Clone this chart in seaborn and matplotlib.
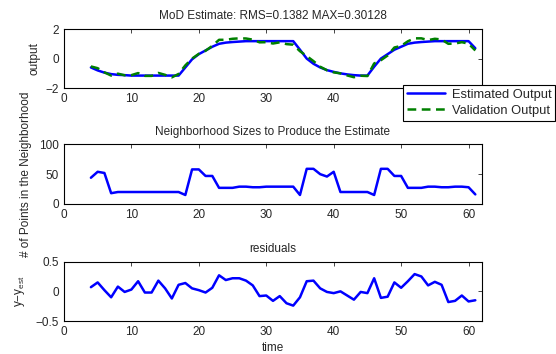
import numpy as np
import pandas as pd
import matplotlib
matplotlib.use("Agg")
import matplotlib.pyplot as plt
import seaborn as sns

# data
time = list(range(4, 62))

estimated = [-0.60, -0.80, -0.95, -1.05, -1.10, -1.12, -1.15, -1.15, -1.15, -1.15,
             -1.15, -1.15, -1.15, -1.15, -0.60, -0.05, 0.30, 0.55, 0.80, 1.00,
             1.08, 1.12, 1.15, 1.18, 1.18, 1.18, 1.18, 1.18, 1.18, 1.18,
             1.18, 0.60, 0.00, -0.35, -0.60, -0.78, -0.90, -1.00, -1.07, -1.12,
             -1.15, -1.15, -0.55, 0.00, 0.30, 0.60, 0.80, 1.00, 1.08, 1.12,
             1.15, 1.18, 1.18, 1.18, 1.18, 1.18, 1.18, 0.70]

validation = [-0.53, -0.65, -0.93, -1.15, -1.02, -1.13, -1.12, -0.98, -1.17, -1.17,
              -0.97, -1.10, -1.27, -1.04, -0.46, 0.00, 0.32, 0.53, 0.86, 1.27,
              1.27, 1.34, 1.37, 1.36, 1.28, 1.10, 1.11, 1.02, 1.10, 0.98,
              0.94, 0.50, 0.17, -0.17, -0.55, -0.79, -0.93, -1.00, -1.14, -1.26,
              -1.16, -1.18, -0.33, -0.11, 0.21, 0.75, 0.86, 1.17, 1.37, 1.37,
              1.25, 1.34, 1.29, 1.00, 1.02, 1.11, 1.01, 0.55]

neighborhood = [44, 54, 52, 18, 20, 20, 20, 20, 20, 20,
                20, 20, 20, 20, 15, 58, 58, 47, 47, 27,
                27, 27, 29, 29, 28, 28, 29, 29, 29, 29,
                29, 15, 59, 59, 50, 46, 54, 20, 20, 20,
                20, 20, 15, 59, 59, 47, 47, 27, 27, 27,
                29, 29, 28, 28, 29, 29, 28, 16]

residuals = [0.07, 0.15, 0.02, -0.10, 0.08, -0.01, 0.03, 0.17, -0.02, -0.02,
             0.18, 0.05, -0.12, 0.11, 0.14, 0.05, 0.02, -0.02, 0.06, 0.27,
             0.19, 0.22, 0.22, 0.18, 0.10, -0.08, -0.07, -0.16, -0.08, -0.20,
             -0.24, -0.10, 0.17, 0.18, 0.05, -0.01, -0.03, 0.00, -0.07, -0.14,
             -0.01, -0.03, 0.22, -0.11, -0.09, 0.15, 0.06, 0.17, 0.29, 0.25,
             0.10, 0.16, 0.11, -0.18, -0.16, -0.07, -0.17, -0.15]

x_ticks = [0, 10, 20, 30, 40, 50, 60]
# in the top panel the "50" and "60" labels sit under the legend
top_x_labels = ["0", "10", "20", "30", "40", "", ""]

df = pd.DataFrame({
    "time": time,
    "estimated": estimated,
    "validation": validation,
    "neighborhood": neighborhood,
    "residuals": residuals,
})

# style
sns.set_style("white")
plt.rcParams["font.family"] = ["Liberation Sans", "DejaVu Sans"]
plt.rcParams["mathtext.fontset"] = "custom"
plt.rcParams["mathtext.rm"] = "Liberation Sans"
plt.rcParams["mathtext.it"] = "Liberation Sans"
plt.rcParams["font.size"] = 8.5

BLUE = "#0000ff"
GREEN = "#008000"
FS = 8.5
LW = 1.8

fig = plt.figure(figsize=(5.56, 3.54), dpi=100)
ax1 = fig.add_axes([0.115, 0.751, 0.752, 0.167])
ax2 = fig.add_axes([0.115, 0.424, 0.752, 0.168])
ax3 = fig.add_axes([0.115, 0.093, 0.752, 0.168])

# top: output
sns.lineplot(data=df, x="time", y="estimated", ax=ax1, color=BLUE,
             linewidth=LW, label="Estimated Output")
sns.lineplot(data=df, x="time", y="validation", ax=ax1, color=GREEN,
             linewidth=LW, linestyle=(0, (3.5, 2.2)), label="Validation Output")
ax1.set_ylim(-2, 2)
ax1.set_yticks([-2, 0, 2])
ax1.set_yticklabels(["\u22122", "0", "2"])
ax1.set_title("MoD Estimate: RMS=0.1382 MAX=0.30128", fontsize=FS, pad=7)
ax1.set_ylabel("output", fontsize=FS)
ax1.yaxis.set_label_coords(-0.055, 0.5)
ax1.set_xlabel("")

leg = ax1.legend(loc="upper right", bbox_to_anchor=(0.999, 1 - 85 / 354),
                 bbox_transform=fig.transFigure, fancybox=False, framealpha=1,
                 edgecolor="black", fontsize=9.3, handlelength=3.0,
                 handletextpad=0.5, borderaxespad=0, borderpad=0.3,
                 labelspacing=0.3)
leg.get_frame().set_linewidth(0.8)
leg.set_zorder(10)

# middle: neighborhood sizes
sns.lineplot(data=df, x="time", y="neighborhood", ax=ax2, color=BLUE, linewidth=LW)
ax2.set_ylim(0, 100)
ax2.set_yticks([0, 50, 100])
ax2.set_title("Neighborhood Sizes to Produce the Estimate", fontsize=FS, pad=7)
ax2.set_ylabel("# of Points in the Neighborhood", fontsize=FS)
ax2.yaxis.set_label_coords(-0.077, 0.5)
ax2.set_xlabel("")

# bottom: residuals
sns.lineplot(data=df, x="time", y="residuals", ax=ax3, color=BLUE, linewidth=LW)
ax3.set_ylim(-0.5, 0.5)
ax3.set_yticks([-0.5, 0, 0.5])
ax3.set_yticklabels(["\u22120.5", "0", "0.5"])
ax3.set_title("residuals", fontsize=FS, pad=7)
ax3.set_ylabel("y\u2212y$_{\\mathregular{est}}$", fontsize=FS)
ax3.yaxis.set_label_coords(-0.088, 0.5)
ax3.set_xlabel("time", fontsize=FS, labelpad=3)

for ax in (ax1, ax2, ax3):
    ax.set_xlim(0, 62)
    ax.set_xticks(x_ticks)
    ax.tick_params(direction="in", top=True, right=True, length=3,
                   width=0.6, labelsize=FS, pad=3.5)
    for s in ax.spines.values():
        s.set_color("black")
        s.set_linewidth(0.8)

ax1.set_xticklabels(top_x_labels)

ax2.get_legend() and ax2.get_legend().remove()
ax3.get_legend() and ax3.get_legend().remove()

fig.savefig("out.png", dpi=100)
